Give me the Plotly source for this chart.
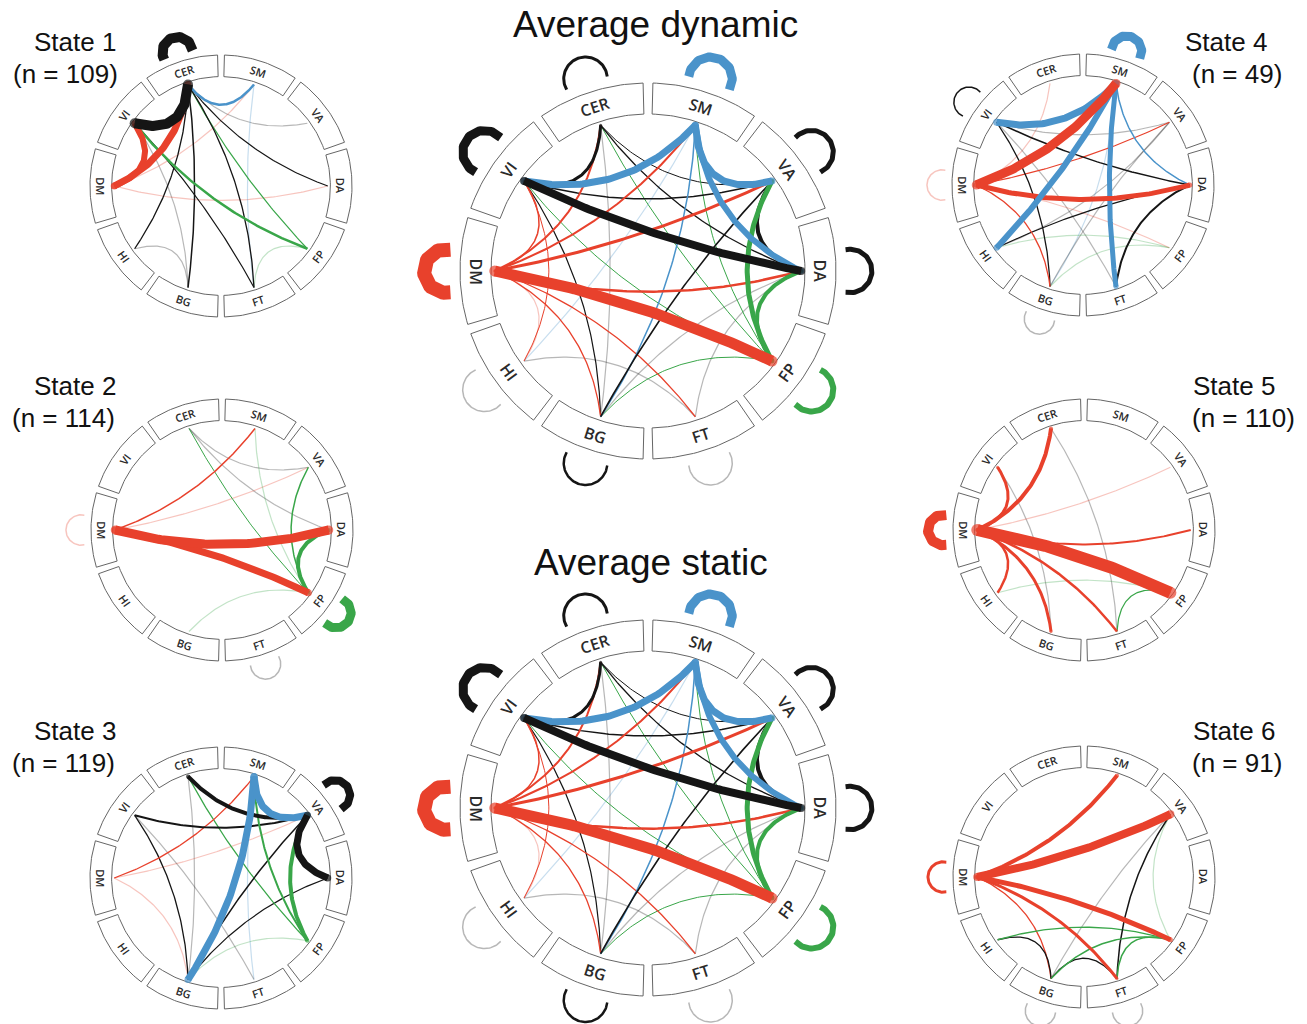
import numpy as np
import plotly.graph_objects as go

# ---------------- data ----------------
NODES = ["CER", "SM", "VA", "DA", "FP", "FT", "BG", "HI", "DM", "VI"]

# (node a, node b, colour category, strength)
avg_dynamic_edges = [
    ("VI", "DA", "black", 8), ("VI", "SM", "blue", 7), ("VI", "CER", "black", 3),
    ("SM", "VA", "blue", 7), ("SM", "DA", "blue", 6), ("VA", "DA", "black", 4),
    ("DA", "FP", "green", 4), ("VA", "FP", "green", 5), ("DM", "FP", "red", 11),
    ("DM", "DA", "red", 2.5), ("DM", "VA", "red", 3), ("DM", "SM", "red", 2),
    ("DM", "CER", "red", 2), ("DM", "VI", "red", 1.5), ("DM", "HI", "red", 0.6),
    ("DM", "BG", "red", 1.3), ("DM", "FT", "red", 1.3), ("VI", "HI", "red", 1),
    ("VI", "BG", "black", 1.2), ("VI", "VA", "black", 1.5), ("VI", "FP", "green", 1),
    ("CER", "BG", "black", 0.6), ("CER", "VA", "black", 1), ("CER", "DA", "black", 1.3),
    ("CER", "FP", "green", 1), ("SM", "BG", "blue", 1.5), ("SM", "FP", "green", 1),
    ("VA", "BG", "black", 1.6), ("BG", "FP", "green", 1), ("BG", "DA", "black", 0.6),
    ("HI", "FT", "black", 0.6), ("FT", "DA", "black", 0.6), ("SM", "HI", "blue", 0.6),
]
avg_dynamic_loops = [("CER", "black", 3), ("SM", "blue", 9), ("VA", "black", 5), ("DA", "black", 5),
                     ("FP", "green", 6), ("FT", "black", 0.6), ("BG", "black", 2.5), ("HI", "black", 0.6),
                     ("DM", "red", 14), ("VI", "black", 9)]

avg_static_edges = [
    ("VI", "DA", "black", 8), ("VI", "SM", "blue", 7), ("VI", "CER", "black", 3),
    ("SM", "VA", "blue", 7), ("SM", "DA", "blue", 6), ("VA", "DA", "black", 4),
    ("DA", "FP", "green", 4), ("VA", "FP", "green", 5), ("DM", "FP", "red", 11),
    ("DM", "DA", "red", 2.5), ("DM", "VA", "red", 3), ("DM", "SM", "red", 2),
    ("DM", "CER", "red", 2), ("DM", "VI", "red", 1.5), ("DM", "HI", "red", 0.6),
    ("DM", "BG", "red", 1.3), ("DM", "FT", "red", 1.3), ("VI", "HI", "red", 1),
    ("VI", "BG", "black", 1.2), ("VI", "VA", "black", 1.5), ("VI", "FP", "green", 1),
    ("CER", "BG", "black", 0.6), ("CER", "VA", "black", 1), ("CER", "DA", "black", 1.3),
    ("CER", "FP", "green", 1), ("SM", "BG", "blue", 1.5), ("SM", "FP", "green", 1),
    ("VA", "BG", "black", 1.6), ("BG", "FP", "green", 1), ("BG", "DA", "black", 0.6),
    ("HI", "FT", "black", 0.6), ("FT", "DA", "black", 0.6), ("SM", "HI", "blue", 0.6),
]
avg_static_loops = [("CER", "black", 3), ("SM", "blue", 9), ("VA", "black", 5), ("DA", "black", 5),
                    ("FP", "green", 6), ("FT", "black", 0.6), ("BG", "black", 2.5), ("HI", "black", 0.6),
                    ("DM", "red", 14), ("VI", "black", 9)]

state1_edges = [
    ("CER", "VI", "black", 10), ("CER", "DM", "red", 7), ("VI", "DM", "red", 6),
    ("CER", "SM", "blue", 2.5), ("CER", "VA", "black", 0.6), ("CER", "DA", "black", 1.2),
    ("CER", "FP", "green", 1.2), ("CER", "FT", "black", 1.3), ("CER", "BG", "black", 1.5),
    ("CER", "HI", "black", 1.3), ("VI", "FT", "black", 1.2), ("VI", "FP", "green", 2.5),
    ("VI", "BG", "black", 0.6), ("DM", "DA", "red", 0.6), ("DM", "SM", "red", 0.6),
    ("SM", "FT", "blue", 0.6), ("FT", "FP", "green", 0.6), ("HI", "BG", "black", 0.6),
]
state1_loops = [("CER", "black", 10)]

state2_edges = [
    ("DM", "DA", "red", 9), ("DM", "FP", "red", 7), ("DM", "SM", "red", 1.5),
    ("DM", "VA", "red", 0.7), ("DA", "FP", "green", 4), ("VA", "FP", "green", 1.5),
    ("CER", "FP", "green", 1), ("SM", "FP", "green", 0.7), ("CER", "VA", "black", 0.6),
    ("CER", "DA", "black", 0.6), ("BG", "FP", "green", 0.6),
]
state2_loops = [("DM", "red", 0.6), ("FP", "green", 9), ("FT", "black", 0.6)]

state3_edges = [
    ("SM", "BG", "blue", 7), ("SM", "VA", "blue", 7), ("CER", "VA", "black", 4),
    ("VA", "DA", "black", 7), ("VI", "VA", "black", 2), ("VI", "BG", "black", 1.3),
    ("VA", "BG", "black", 1.5), ("DA", "BG", "black", 1.2), ("VA", "FP", "green", 4),
    ("SM", "FP", "green", 2), ("CER", "FP", "green", 1.3), ("BG", "FP", "green", 0.6),
    ("DM", "SM", "red", 1.3), ("DM", "VA", "red", 0.6), ("DM", "BG", "red", 0.6),
    ("VI", "FT", "black", 0.6), ("CER", "BG", "black", 0.5), ("SM", "FT", "blue", 0.5),
]
state3_loops = [("VA", "black", 8)]

state4_edges = [
    ("VI", "SM", "blue", 7), ("DM", "SM", "red", 9), ("SM", "HI", "blue", 6),
    ("SM", "FT", "blue", 5), ("DM", "DA", "red", 5), ("SM", "DA", "blue", 1.5),
    ("VI", "DA", "black", 1.5), ("VI", "VA", "black", 0.8), ("DM", "VA", "red", 1.2),
    ("VI", "BG", "black", 1.3), ("HI", "DA", "black", 1.2), ("DA", "FT", "black", 2),
    ("HI", "FP", "green", 0.7), ("BG", "FP", "green", 0.7), ("HI", "VA", "black", 0.6),
    ("DM", "FP", "red", 0.8), ("DM", "BG", "red", 1.3), ("SM", "BG", "blue", 0.6),
    ("VA", "BG", "black", 0.6), ("CER", "DM", "red", 0.5), ("VI", "FT", "black", 0.6),
]
state4_loops = [("SM", "blue", 9), ("VI", "black", 1.5), ("DM", "red", 0.6), ("BG", "black", 0.6)]

state5_edges = [
    ("DM", "FP", "red", 12), ("DM", "CER", "red", 4), ("DM", "VI", "red", 3),
    ("DM", "DA", "red", 2), ("DM", "VA", "red", 0.7), ("DM", "HI", "red", 2.5),
    ("DM", "BG", "red", 3), ("DM", "FT", "red", 2.5), ("CER", "FT", "black", 0.6),
    ("VI", "BG", "black", 0.5), ("HI", "FP", "green", 0.6), ("FT", "FP", "green", 1.2),
]
state5_loops = [("DM", "red", 10)]

state6_edges = [
    ("DM", "VA", "red", 8), ("DM", "SM", "red", 4), ("DM", "FP", "red", 5),
    ("DM", "FT", "red", 3), ("DM", "BG", "red", 1.3), ("VA", "FT", "black", 1.5),
    ("VA", "BG", "black", 0.6), ("VA", "FP", "green", 0.6), ("HI", "BG", "black", 1.3),
    ("BG", "FT", "black", 1.3), ("HI", "FP", "green", 1.3), ("BG", "FP", "green", 1.5),
    ("FT", "FP", "green", 1.5),
]
state6_loops = [("DM", "red", 3), ("BG", "black", 0.6), ("FT", "black", 0.6)]

# ---------------- styles / layout ----------------
COLORS = {"red": "#e8412c", "blue": "#4a93ca", "green": "#39a649", "black": "#151515"}
TITLE_FONT = "Liberation Sans, Arial, sans-serif"
LABEL_FONT = "Open Sans, DejaVu Sans, sans-serif"

PANELS = [
    dict(edges=state1_edges, loops=state1_loops, c=(221, 186), R=131,
         texts=[("State 1", 75, 42, 26), ("(n = 109)", 65, 74, 26)]),
    dict(edges=state2_edges, loops=state2_loops, c=(222, 530), R=131,
         texts=[("State 2", 75, 386, 26), ("(n = 114)", 63, 418, 26)]),
    dict(edges=state3_edges, loops=state3_loops, c=(221, 878), R=131,
         texts=[("State 3", 75, 731, 26), ("(n = 119)", 63, 763, 26)]),
    dict(edges=avg_dynamic_edges, loops=avg_dynamic_loops, c=(648, 271), R=188,
         texts=[("Average dynamic", 655, 24, 37)]),
    dict(edges=avg_static_edges, loops=avg_static_loops, c=(648, 808), R=188,
         texts=[("Average static", 651, 562, 37)]),
    dict(edges=state4_edges, loops=state4_loops, c=(1083, 185), R=131,
         texts=[("State 4", 1226, 42, 26), ("(n = 49)", 1237, 74, 26)]),
    dict(edges=state5_edges, loops=state5_loops, c=(1084, 530), R=131,
         texts=[("State 5", 1234, 386, 26), ("(n = 110)", 1243, 418, 26)]),
    dict(edges=state6_edges, loops=state6_loops, c=(1084, 877), R=131,
         texts=[("State 6", 1234, 731, 26), ("(n = 91)", 1237, 763, 26)]),
]


def node_angle(name):
    return np.deg2rad(108 - 36 * NODES.index(name))


fig = go.Figure()
annotations = []


def to_screen(c, pts):
    return c[0] + pts[:, 0], c[1] - pts[:, 1]


for p in PANELS:
    c, R = p["c"], p["R"]
    big = R > 150
    # ---- segment boxes ----
    bx, by = [], []
    half = np.deg2rad(16.5)
    for name in NODES:
        th = node_angle(name)
        ang = np.linspace(th - half, th + half, 30)
        r_out, r_in = R, 0.835 * R
        xs = np.concatenate([r_out * np.cos(ang), r_in * np.cos(ang[::-1]), [r_out * np.cos(ang[0])]])
        ys = np.concatenate([r_out * np.sin(ang), r_in * np.sin(ang[::-1]), [r_out * np.sin(ang[0])]])
        X, Y = to_screen(c, np.column_stack([xs, ys]))
        bx += list(X) + [None]
        by += list(Y) + [None]
        # label
        rl = 0.9175 * R
        lx, ly = c[0] + rl * np.cos(th), c[1] - rl * np.sin(th)
        deg = 108 - 36 * NODES.index(name)
        ta = 90 - deg
        while ta > 90:
            ta -= 180
        while ta <= -90:
            ta += 180
        annotations.append(dict(x=lx, y=ly, xref="x", yref="y", text=name, showarrow=False,
                                textangle=ta, font=dict(family=LABEL_FONT, size=16 if big else 11,
                                                        color="#2a2a2a", weight=600),
                                xanchor="center", yanchor="middle"))
    fig.add_trace(go.Scatter(x=bx, y=by, mode="lines", fill="toself", fillcolor="white",
                             line=dict(color="#666", width=1), hoverinfo="skip", showlegend=False))

    # ---- chords ----
    for a, b, col, w in sorted(p["edges"], key=lambda e: e[3]):
        rl = 0.815 * R
        ta_, tb_ = node_angle(a), node_angle(b)
        p0 = rl * np.array([np.cos(ta_), np.sin(ta_)])
        p2 = rl * np.array([np.cos(tb_), np.sin(tb_)])
        ia, ib = NODES.index(a), NODES.index(b)
        if abs(ia - ib) == 5:
            tlow = node_angle(NODES[min(ia, ib)])
            d = tlow - np.pi / 2
            cc = 0.27 * rl * np.array([np.cos(d), np.sin(d)])
        else:
            cc = 0.6 * (p0 + p2) / 2
        t = np.linspace(0, 1, 80)[:, None]
        pts = (1 - t) ** 2 * p0 + 2 * (1 - t) * t * cc + t ** 2 * p2
        X, Y = to_screen(c, pts)
        faded = w < 1
        width = 1.2 if faded else w
        trace = dict(x=X, y=Y, hoverinfo="skip", showlegend=False,
                     line=dict(color=COLORS[col], width=width),
                     opacity=0.3 if faded else 1.0)
        if width >= 3:
            sizes = [width] + [0] * (len(X) - 2) + [width]
            trace.update(mode="lines+markers",
                         marker=dict(size=sizes, color=COLORS[col], line=dict(width=0)))
        else:
            trace.update(mode="lines")
        fig.add_trace(go.Scatter(**trace))

    # ---- self loops ----
    for name, col, w in p["loops"]:
        th = node_angle(name)
        cen = 1.075 * R * np.array([np.cos(th), np.sin(th)])
        rr = 0.116 * R
        phi = np.linspace(th - np.deg2rad(102), th + np.deg2rad(102), 60)
        pts = cen + rr * np.column_stack([np.cos(phi), np.sin(phi)])
        X, Y = to_screen(c, pts)
        faded = w < 1
        fig.add_trace(go.Scatter(x=X, y=Y, mode="lines", hoverinfo="skip", showlegend=False,
                                 line=dict(color=COLORS[col], width=1.5 if faded else w),
                                 opacity=0.3 if faded else 1.0))

    for txt, tx, ty, fs in p["texts"]:
        annotations.append(dict(x=tx, y=ty, xref="x", yref="y", text=txt, showarrow=False,
                                font=dict(family=TITLE_FONT, size=fs, color="#111"),
                                xanchor="center", yanchor="middle"))

fig.update_layout(
    width=1307, height=1024, autosize=False,
    margin=dict(l=0, r=0, t=0, b=0),
    paper_bgcolor="white", plot_bgcolor="white",
    xaxis=dict(range=[0, 1307], visible=False, fixedrange=True),
    yaxis=dict(range=[1024, 0], visible=False, fixedrange=True),
    annotations=annotations,
)

fig.write_html("out.html", config={"displayModeBar": False},
               post_script="document.body.style.margin='0';document.body.style.overflow='hidden';")
